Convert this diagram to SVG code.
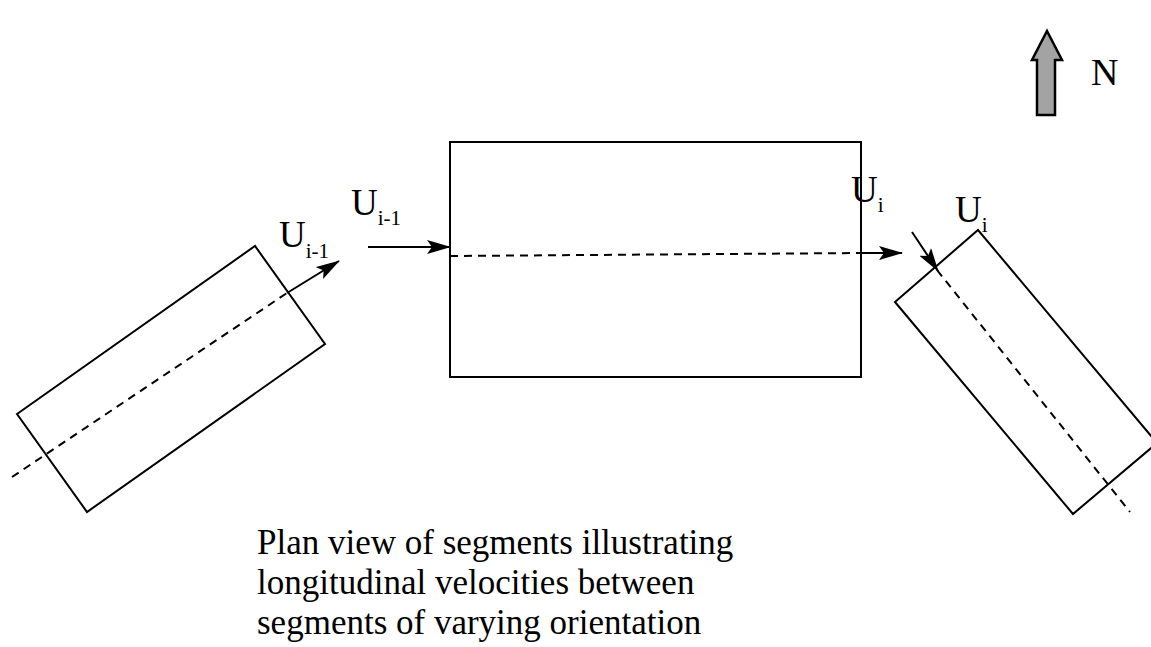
<svg xmlns="http://www.w3.org/2000/svg" width="1151" height="647" viewBox="0 0 1151 647">
<defs>
<marker id="ah" viewBox="0 0 24 14" refX="23" refY="7" markerWidth="24" markerHeight="14" markerUnits="userSpaceOnUse" orient="auto">
<path d="M0,0 L24,7 L0,14 L5,7 Z" fill="#000"/>
</marker>
<style>
.box{fill:none;stroke:#000;stroke-width:2}
.dash{fill:none;stroke:#000;stroke-width:2;stroke-dasharray:8 6}
.arr{fill:none;stroke:#000;stroke-width:2;marker-end:url(#ah)}
.lbl{font-family:"Liberation Serif","Times New Roman",serif;fill:#000}
</style>
</defs>
<rect width="1151" height="647" fill="#fff"/>
<g id="segment-left">
<polygon class="box" points="17,414 255,246 325,344 87,512"/>
<line class="dash" x1="12" y1="477" x2="287" y2="293"/>
</g>
<g id="segment-center">
<rect class="box" x="450" y="142" width="411" height="235"/>
<line class="dash" x1="450" y1="256" x2="861" y2="253"/>
</g>
<g id="segment-right">
<polygon class="box" points="895,302 978,230 1157,443 1073,514"/>
<line class="dash" x1="937" y1="270" x2="1130" y2="512"/>
</g>
<g id="connectors">
<line class="arr" x1="287" y1="293" x2="339" y2="261"/>
<line class="arr" x1="368" y1="247" x2="450" y2="247"/>
<line class="arr" x1="861" y1="253" x2="902" y2="253"/>
<line class="arr" x1="912" y1="232" x2="938" y2="271"/>
</g>
<g id="labels" class="lbl">
<text x="279" y="247" font-size="37">U<tspan font-size="21" dy="11">i-1</tspan></text>
<text x="351" y="215" font-size="37">U<tspan font-size="21" dy="10">i-1</tspan></text>
<text x="851" y="202" font-size="37">U<tspan font-size="21" dy="10">i</tspan></text>
<text x="955" y="222" font-size="37">U<tspan font-size="21" dy="10">i</tspan></text>
</g>
<g id="north">
<polygon points="1047,31 1062,60 1055,60 1055,115 1037,115 1037,60 1032,60" fill="#a3a3a3" stroke="#000" stroke-width="2.5" stroke-linejoin="miter"/>
<text class="lbl" x="1091" y="85" font-size="38">N</text>
</g>
<g id="caption" class="lbl" font-size="35">
<text x="257" y="554">Plan view of segments illustrating</text>
<text x="257" y="594">longitudinal velocities between</text>
<text x="257" y="634">segments of varying orientation</text>
</g>
</svg>
